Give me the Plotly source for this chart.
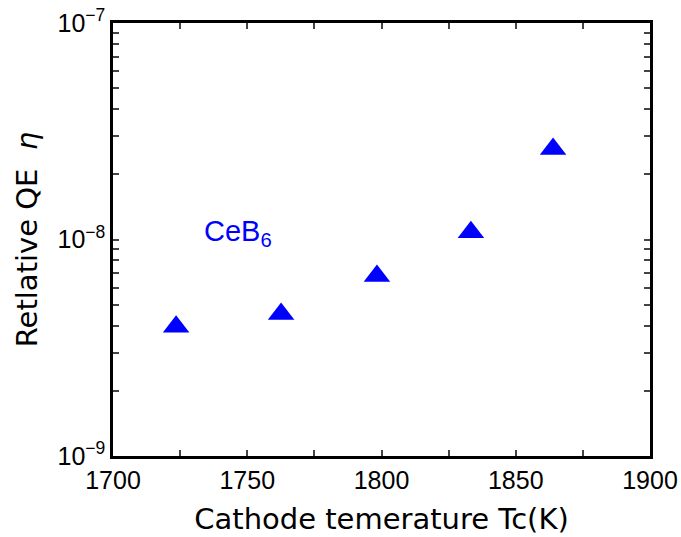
import plotly.graph_objects as go
import math

temps = [1723.5, 1762.6, 1798.3, 1833.3, 1863.9]
qe = [3.95e-9, 4.53e-9, 6.78e-9, 1.08e-8, 2.62e-8]
x_ticks = [1700, 1750, 1800, 1850, 1900]
y_ticks = [1e-9, 1e-8, 1e-7]
y_labels = ["10<sup>−9</sup>", "10<sup>−8</sup>", "10<sup>−7</sup>"]
y_minor = [m * 10 ** e for e in (-9, -8) for m in range(2, 10)]

font = "Liberation Sans, Arial, sans-serif"
tfont = "DejaVu Sans, sans-serif"
fig = go.Figure()
fig.add_trace(go.Scatter(x=temps, y=qe, mode="markers",
                         marker=dict(symbol="triangle-up", size=23, color="#0000ff"),
                         showlegend=False))
fig.add_annotation(x=1746.5, y=math.log10(1.07e-8), yref="y", xref="x", text="CeB<sub>6</sub>",
                   showarrow=False, font=dict(family=font, size=29, color="#0000ff"))
fig.update_xaxes(range=[1700, 1900], tickvals=x_ticks, ticks="inside", ticklen=6,
                 tickwidth=1.5, mirror="allticks", showline=True, linewidth=2.5,
                 linecolor="black", showgrid=False, zeroline=False, automargin=False,
                 tickfont=dict(family=font, size=25, color="black"),
                 minor=dict(dtick=25, ticks="inside", ticklen=6, tickwidth=1.5, showgrid=False),
                 title=dict(text="Cathode temerature Tc(K)", font=dict(family=tfont, size=29, color="black"), standoff=16))
fig.update_yaxes(type="log", range=[-9, -7], tickvals=y_ticks, ticktext=y_labels,
                 ticks="inside", ticklen=6, tickwidth=1.5, mirror="allticks",
                 showline=True, linewidth=2.5, linecolor="black", showgrid=False, automargin=False,
                 tickfont=dict(family=font, size=25, color="black"),
                 minor=dict(tickvals=y_minor, ticks="inside", ticklen=6, tickwidth=1.5, showgrid=False),
                 title=dict(text="Retlative QE  <i>η</i>", font=dict(family=tfont, size=29, color="black"), standoff=12))
fig.update_layout(width=681, height=537, margin=dict(l=113, r=31, t=23, b=81),
                  plot_bgcolor="white", paper_bgcolor="white")
fig.write_html("out.html")
